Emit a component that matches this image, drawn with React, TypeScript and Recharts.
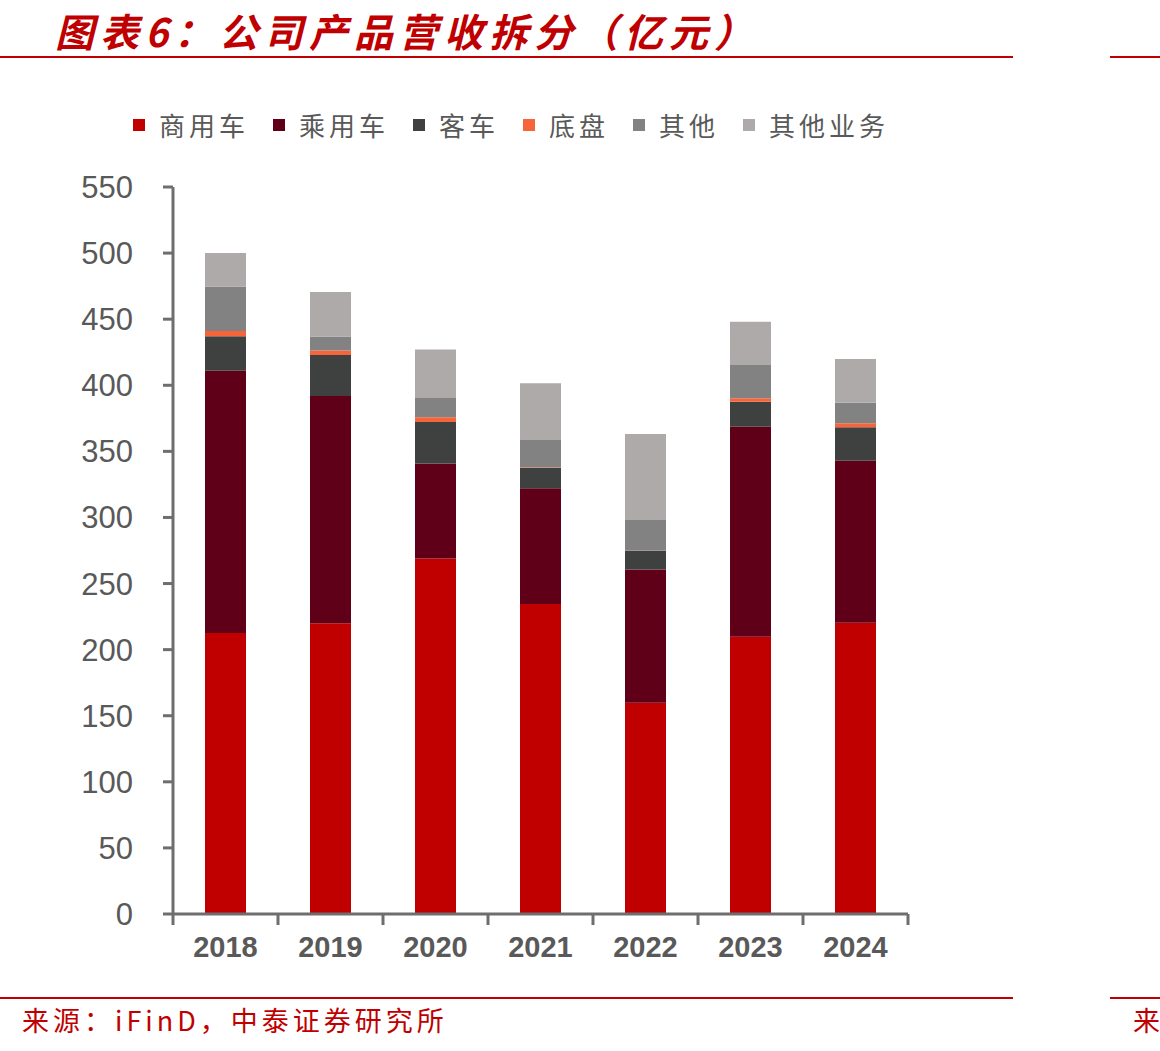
import { BarChart, Bar, XAxis, YAxis, Legend } from "recharts";

const YEARS = ["2018", "2019", "2020", "2021", "2022", "2023", "2024"];

// 营收拆分，单位：亿元
const COMMERCIAL = [212.6, 219.9, 269.0, 234.5, 159.8, 209.8, 220.4];
const PASSENGER = [198.4, 172.0, 71.8, 87.5, 100.9, 158.9, 122.5];
const BUS = [26.0, 31.0, 31.5, 15.6, 14.0, 18.9, 25.3];
const CHASSIS = [4.0, 3.5, 3.5, 0.3, 0.2, 2.5, 3.0];
const OTHER = [33.8, 10.5, 14.6, 20.7, 23.2, 25.2, 15.6];
const OTHER_BUSINESS = [25.2, 33.6, 36.6, 42.9, 65.0, 32.8, 33.1];

const Y_TICKS = [0, 50, 100, 150, 200, 250, 300, 350, 400, 450, 500, 550];

const SERIES = [
  { name: "商用车", values: COMMERCIAL, color: "#C00000" },
  { name: "乘用车", values: PASSENGER, color: "#5F0018" },
  { name: "客车", values: BUS, color: "#3F4141" },
  { name: "底盘", values: CHASSIS, color: "#F8643A" },
  { name: "其他", values: OTHER, color: "#828282" },
  { name: "其他业务", values: OTHER_BUSINESS, color: "#AEAAAA" },
];

const data = YEARS.map((year, i) => {
  const row: Record<string, string | number> = { year };
  SERIES.forEach((s) => {
    row[s.name] = s.values[i];
  });
  return row;
});

const RED = "#C00000";
const AXIS = "#6E6E6E";
const TEXT = "#595959";
const CJK = '"Noto Sans CJK SC", "Noto Sans", sans-serif';
const NUM = '"Liberation Sans", Arial, sans-serif';

const X_TICK_MARGIN = 22;
const X_TICK_LEN = 11;

// year label plus tick marks on the category boundaries
function YearTick(props: any) {
  const { x, y, payload, index, visibleTicksCount } = props;
  const half = payload?.offset ?? 0;
  const axisY = y - X_TICK_MARGIN;
  const isLast = index === visibleTicksCount - 1;
  return (
    <g>
      <line
        x1={x - half}
        x2={x - half}
        y1={axisY}
        y2={axisY + X_TICK_LEN}
        stroke={AXIS}
        strokeWidth={3}
      />
      {isLast && (
        <line
          x1={x + half}
          x2={x + half}
          y1={axisY}
          y2={axisY + X_TICK_LEN}
          stroke={AXIS}
          strokeWidth={3}
        />
      )}
      <text
        x={x}
        y={y}
        dy="0.71em"
        textAnchor="middle"
        fill={TEXT}
        fontSize={29}
        fontWeight={700}
        fontFamily={NUM}
      >
        {payload.value}
      </text>
    </g>
  );
}

function LegendRow() {
  return (
    <div style={{ display: "flex", alignItems: "center", fontFamily: CJK }}>
      {SERIES.map((s) => (
        <div
          key={s.name}
          style={{ display: "flex", alignItems: "center", marginRight: 24 }}
        >
          <span
            style={{
              width: 12,
              height: 12,
              background: s.color,
              display: "inline-block",
              marginRight: 14,
            }}
          />
          <span
            style={{
              fontSize: 26,
              letterSpacing: 4,
              color: TEXT,
              whiteSpace: "nowrap",
            }}
          >
            {s.name}
          </span>
        </div>
      ))}
    </div>
  );
}

function RuleLines({ top }: { top: number }) {
  return (
    <>
      <div
        style={{
          position: "absolute",
          left: 0,
          top,
          width: 1013,
          height: 2,
          background: RED,
        }}
      />
      <div
        style={{
          position: "absolute",
          left: 1110,
          top,
          width: 50,
          height: 2,
          background: RED,
        }}
      />
    </>
  );
}

export default function App() {
  return (
    <div
      style={{
        position: "absolute",
        left: 0,
        top: 0,
        width: 1160,
        height: 1051,
        background: "#fff",
        overflow: "hidden",
      }}
    >
      <div
        style={{
          position: "absolute",
          left: 55,
          top: 2,
          fontFamily: CJK,
          fontSize: 39,
          fontWeight: 700,
          fontStyle: "italic",
          letterSpacing: 6,
          color: RED,
          whiteSpace: "nowrap",
        }}
      >
        图表6：公司产品营收拆分（亿元）
      </div>
      <RuleLines top={56} />

      <div style={{ position: "absolute", left: 0, top: 90 }}>
        <BarChart
          width={940}
          height={880}
          data={data}
          margin={{ top: 97, right: 32, bottom: 0, left: 0 }}
          barSize={41}
        >
          <Legend
            verticalAlign="middle"
            layout="horizontal"
            wrapperStyle={{ top: 16, left: 133, width: "auto", height: "auto" }}
            content={() => <LegendRow />}
          />
          <XAxis
            dataKey="year"
            height={56}
            axisLine={{ stroke: AXIS, strokeWidth: 3 }}
            tickLine={false}
            tickSize={0}
            tickMargin={X_TICK_MARGIN}
            interval={0}
            tick={<YearTick />}
          />
          <YAxis
            width={173}
            domain={[0, 550]}
            ticks={Y_TICKS}
            interval={0}
            tickSize={10}
            tickMargin={30}
            axisLine={{ stroke: AXIS, strokeWidth: 3 }}
            tickLine={{ stroke: AXIS, strokeWidth: 3 }}
            tick={{ fill: TEXT, fontSize: 31, fontFamily: NUM }}
          />
          {SERIES.map((s) => (
            <Bar
              key={s.name}
              dataKey={s.name}
              stackId="total"
              fill={s.color}
              isAnimationActive={false}
            />
          ))}
        </BarChart>
      </div>

      <RuleLines top={997} />
      <div
        style={{
          position: "absolute",
          left: 22,
          top: 1000,
          fontFamily: CJK,
          fontSize: 27,
          letterSpacing: 4,
          color: RED,
          whiteSpace: "nowrap",
        }}
      >
        来源：iFinD，中泰证券研究所
      </div>
      <div
        style={{
          position: "absolute",
          left: 1133,
          top: 1000,
          fontFamily: CJK,
          fontSize: 27,
          color: RED,
          whiteSpace: "nowrap",
        }}
      >
        来
      </div>
    </div>
  );
}
